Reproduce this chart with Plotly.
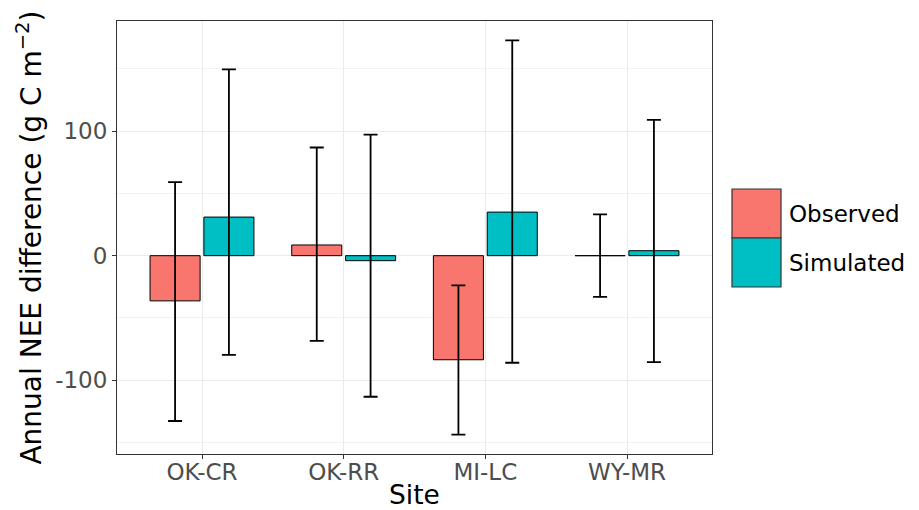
import plotly.graph_objects as go

sites = ["OK-CR", "OK-RR", "MI-LC", "WY-MR"]
series_names = ["Observed", "Simulated"]
series_colors = ["#F8766D", "#00BFC4"]

observed = [-36.3, 8.6, -83.6, 0.0]
observed_low = [-132.8, -68.4, -143.8, -33.1]
observed_high = [59.1, 86.9, -23.8, 33.2]

simulated = [31.0, -4.0, 35.0, 4.0]
simulated_low = [-79.6, -113.3, -86.0, -85.5]
simulated_high = [149.7, 97.3, 173.0, 109.1]

ytick_vals = [-100, 0, 100]
ytick_text = ["-100", "0", "100"]

W, H = 919, 510
L, R, T, B = 117, 207, 21, 56

fig = go.Figure()
vals = [observed, simulated]
lows = [observed_low, simulated_low]
highs = [observed_high, simulated_high]
for name, col, v, lo, hi in zip(series_names, series_colors, vals, lows, highs):
    fig.add_trace(go.Bar(
        x=sites, y=v, name=name,
        marker=dict(color=col, line=dict(color="black", width=1)),
        error_y=dict(type="data", symmetric=False,
                     array=[h - a for h, a in zip(hi, v)],
                     arrayminus=[a - l for a, l in zip(v, lo)],
                     color="black", thickness=1.8, width=7),
        showlegend=False,
    ))

# manual ggplot-style legend
pw = W - L - R
ph = H - T - B
def px2x(px):
    return (px - L) / pw
def py2y(py):
    return (H - B - py) / ph

key_x0, key_x1 = 732, 781
key_top = 189
key_h = 49
shapes = []
annotations = []
for i, (name, col) in enumerate(zip(series_names, series_colors)):
    y_top = key_top + i * key_h
    y_bot = y_top + key_h
    shapes.append(dict(type="rect", xref="paper", yref="paper",
                       x0=px2x(key_x0), x1=px2x(key_x1),
                       y0=py2y(y_bot), y1=py2y(y_top),
                       fillcolor=col, line=dict(color="#333333", width=1.2)))
    annotations.append(dict(xref="paper", yref="paper", x=px2x(787),
                            y=py2y((y_top + y_bot) / 2), text=name,
                            showarrow=False, xanchor="left", yanchor="middle",
                            font=dict(size=23, color="black")))

fig.update_layout(
    width=W, height=H,
    margin=dict(l=L, r=R, t=T, b=B),
    paper_bgcolor="white", plot_bgcolor="white",
    barmode="group", bargap=0.24, bargroupgap=0.07,
    font=dict(family="DejaVu Sans", color="#4D4D4D"),
    shapes=shapes, annotations=annotations,
    xaxis=dict(
        range=[-0.6, 3.6], automargin=False,
        showgrid=True, gridcolor="#EBEBEB", gridwidth=1,
        showline=True, linecolor="#333333", linewidth=1, mirror=True,
        ticks="outside", ticklen=4, tickcolor="#333333",
        tickfont=dict(size=23, color="#4D4D4D"),
        ticklabelstandoff=-7,
        title=dict(text="Site", font=dict(size=26.5, color="black"), standoff=3),
        zeroline=False,
    ),
    yaxis=dict(
        range=[-159.3, 188.5], automargin=False,
        tickvals=ytick_vals, ticktext=ytick_text,
        showgrid=True, gridcolor="#EBEBEB", gridwidth=1,
        minor=dict(tickvals=[-150, -50, 50, 150], showgrid=True,
                   gridcolor="#F2F2F2", gridwidth=1, ticks=""),
        showline=True, linecolor="#333333", linewidth=1, mirror=True,
        ticks="outside", ticklen=4, tickcolor="#333333",
        tickfont=dict(size=23, color="#4D4D4D"),
        title=dict(text="Annual NEE difference (g C m<sup>−2</sup>)",
                   font=dict(size=28, color="black"), standoff=5),
        zeroline=False,
    ),
)

fig.write_html("out.html")
